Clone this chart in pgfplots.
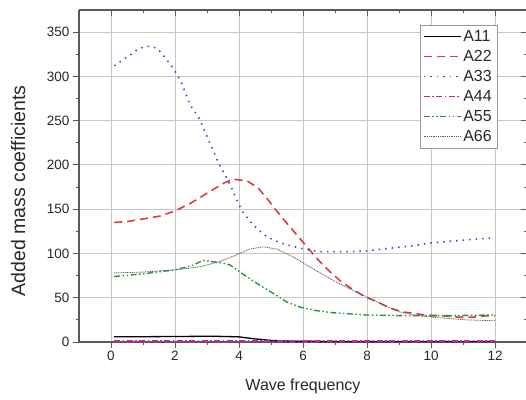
\documentclass[border=0pt]{standalone}
\usepackage{pgfplots}
\pgfplotsset{compat=1.18}
\usepackage{fontspec}
\setmainfont{Liberation Sans}
\definecolor{cred}{RGB}{222,60,60}
\definecolor{cblue}{RGB}{70,70,200}
\definecolor{cmag}{RGB}{205,30,170}
\definecolor{cgreen}{RGB}{40,150,60}
\definecolor{cgray}{RGB}{90,90,90}
\definecolor{txt}{RGB}{40,40,40}
\begin{document}
\begin{tikzpicture}
\useasboundingbox (0,0) rectangle (526pt,399pt);
\begin{axis}[
  at={(79pt,57pt)}, anchor=south west,
  scale only axis, width=448pt, height=332pt,
  xmin=-1, xmax=13, ymin=0, ymax=375,
  xtick={0,2,...,12}, ytick={0,50,...,350},
  minor x tick num=1, minor y tick num=1,
  grid=major, major grid style={gray!45, line width=0.9pt},
  axis x line*=bottom, axis y line*=left,
  axis line style={cgray, line width=1.1pt},
  tick style={cgray, line width=1pt},
  tick align=outside, major tick length=6pt, minor tick length=3pt,
  /pgf/number format/assume math mode=true,
  tick label style={font=\fontsize{13.5}{13.5}\selectfont, text=txt},
  xlabel={Wave frequency}, ylabel={Added mass coefficients},
  xlabel style={font=\fontsize{16}{16}\selectfont, text=txt, at={(axis description cs:0.5,-0.0)}, anchor=north, yshift=-33pt},
  ylabel style={font=\fontsize{19.5}{19.5}\selectfont, text=txt, at={(axis description cs:-0.136,0.455)}, anchor=center},
  legend style={at={(axis description cs:0.933,0.955)}, anchor=north east, draw=gray!80, fill=white, font=\fontsize{16}{16}\selectfont, text=txt, row sep=3.5pt, inner sep=3pt},
  legend cell align=left,
  legend image code/.code={\draw[#1] (0pt,0pt) -- (37pt,0pt);},
  clip=false,
]
\addplot[black, line width=1.3pt] coordinates {
(0.1,6) (1,6) (2,6.2) (3,6.5) (3.5,6.3) (4,5.8) (4.5,3.5) (5,1.8) (5.5,1.0) (6,0.8) (7,0.6) (8,0.5) (9,0.5) (10,0.5) (11,0.5) (12,0.5)};
\addlegendentry{A11}
\addplot[cred, line width=1.6pt, dash pattern=on 8pt off 5pt] coordinates {
(0.1,135) (0.5,136) (1.0,139) (1.5,142) (2.0,148) (2.5,157) (3.0,168) (3.5,179) (3.8,184) (4.25,182) (4.6,174) (4.9,161) (5.2,147) (5.5,134) (5.85,119) (6.16,106) (6.47,93) (6.85,79) (7.2,68) (7.57,59) (7.94,51) (8.35,45) (8.7,38.5) (9.1,34) (9.45,32.5) (9.8,30.5) (10.4,29.5) (10.9,28) (11.3,28) (11.7,29.5) (12,30)};
\addlegendentry{A22}
\addplot[cblue, line width=1.6pt, dash pattern=on 1.5pt off 5pt] coordinates {
(0.1,312) (0.55,323) (0.8,329.5) (1.0,333) (1.2,334) (1.43,332) (1.63,324) (1.97,308) (2.2,293) (2.47,268) (2.75,253) (3.04,229) (3.4,199) (3.65,183) (3.78,173) (3.97,157) (4.13,146) (4.4,134) (4.6,127) (4.87,119) (5.28,112) (5.9,106) (6.5,102) (7.0,102) (7.5,102) (8.0,103) (8.5,105) (9.0,107) (9.5,109) (10.0,112) (10.5,113.5) (11.0,115) (11.5,116.5) (12.0,117.5)};
\addlegendentry{A33}
\addplot[cmag, line width=1.4pt, dash pattern=on 6pt off 2.5pt on 1.5pt off 2.5pt] coordinates {
(0.1,1) (2,1) (4,1) (6,1) (8,1) (10,1) (12,1)};
\addlegendentry{A44}
\addplot[cgreen, line width=1.4pt, dash pattern=on 6pt off 2.5pt on 1.5pt off 2.5pt on 1.5pt off 2.5pt] coordinates {
(0.1,74) (1.0,77) (2.0,81.5) (2.5,86) (2.88,92) (3.0,91.6) (3.5,89) (3.72,87) (4.03,79) (4.4,70) (4.75,62) (5.2,52) (5.5,45) (5.9,39.5) (6.4,35.5) (6.95,33) (8,30.5) (9,29.8) (10,29.5) (11,30) (12,30.5)};
\addlegendentry{A55}
\addplot[cgray, line width=0.8pt, dash pattern=on 1pt off 0.8pt] coordinates {
(0.1,78) (1.0,79) (2.0,81.5) (2.78,85) (3.0,87) (3.4,91) (3.8,96.5) (4.34,105) (4.75,107.5) (5.18,105) (5.7,96) (6.2,85) (6.8,72.5) (7.4,61) (8,51) (8.5,42) (9.03,34) (9.5,30.5) (10.06,28) (11.1,25) (12,24)};
\addlegendentry{A66}
\end{axis}
\begin{axis}[
  at={(79pt,57pt)}, anchor=south west,
  scale only axis, width=448pt, height=332pt,
  xmin=-1, xmax=13, ymin=0, ymax=375,
  xtick={0,2,...,12}, ytick={0,50,...,350},
  minor x tick num=1, minor y tick num=1,
  axis x line*=top, axis y line*=right,
  axis line style={cgray, line width=1.1pt},
  tick style={cgray, line width=1pt},
  tick align=inside, major tick length=6pt, minor tick length=3pt,
  xticklabels={}, yticklabels={},
]
\end{axis}
\end{tikzpicture}
\end{document}
